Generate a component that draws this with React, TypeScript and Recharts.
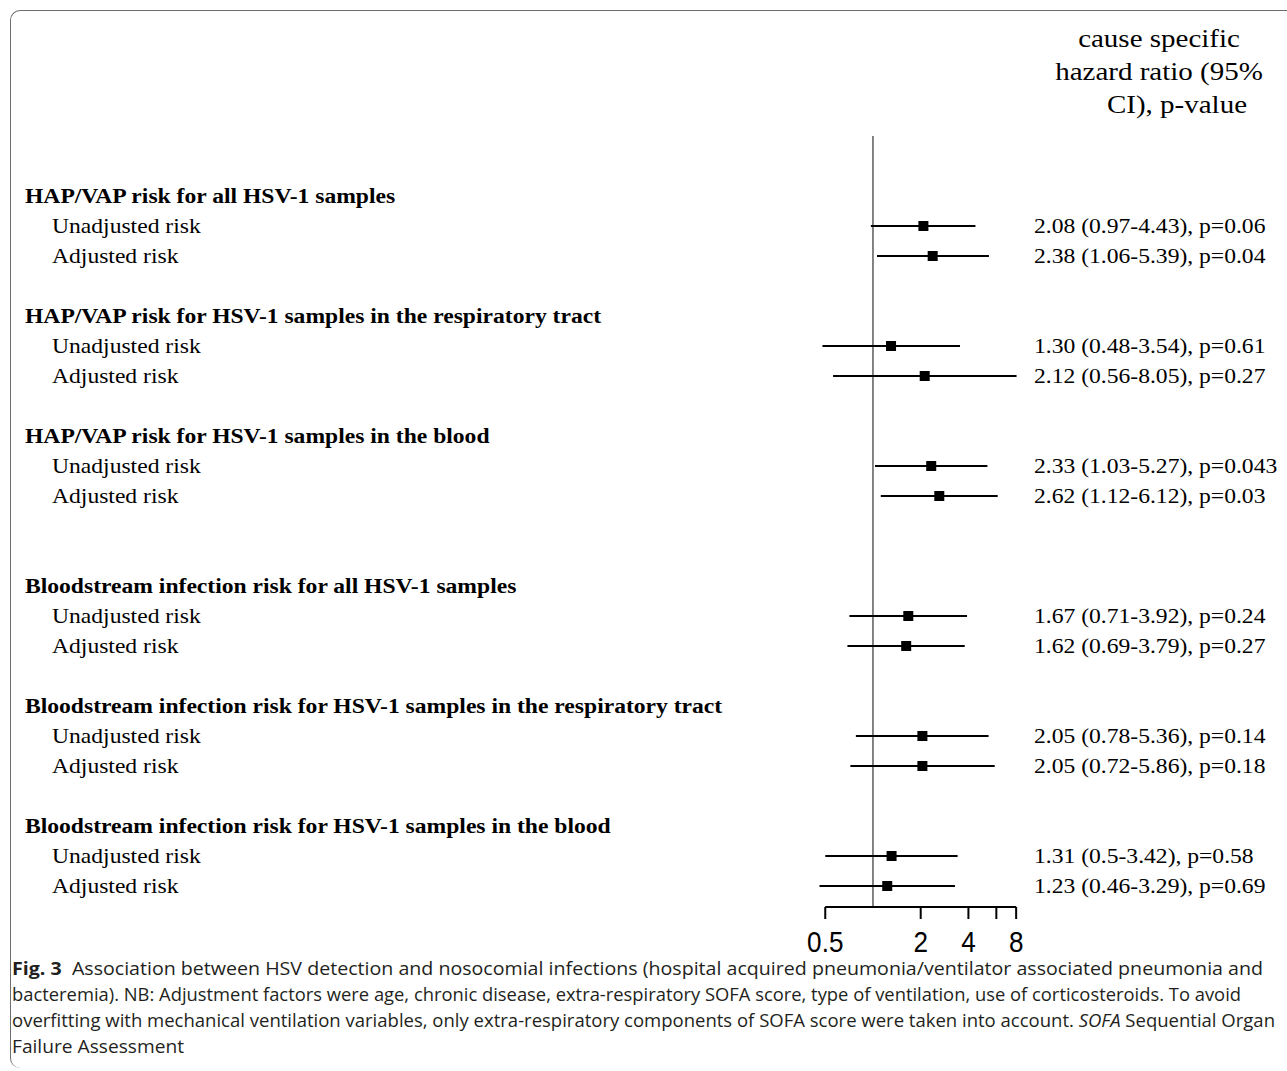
import { ScatterChart, Scatter, XAxis, YAxis, ErrorBar, ReferenceLine } from "recharts";

const SERIF = '"Liberation Serif", "Times New Roman", serif';

// group headings and the row (from the top) each one sits on
const groupTitles = [
  "HAP/VAP risk for all HSV-1 samples",
  "HAP/VAP risk for HSV-1 samples in the respiratory tract",
  "HAP/VAP risk for HSV-1 samples in the blood",
  "Bloodstream infection risk for all HSV-1 samples",
  "Bloodstream infection risk for HSV-1 samples in the respiratory tract",
  "Bloodstream infection risk for HSV-1 samples in the blood",
];
const groupRows = [2, 6, 10, 15, 19, 23];
const subLabels = ["Unadjusted risk", "Adjusted risk"];

const hazardRatios = [2.08, 2.38, 1.3, 2.12, 2.33, 2.62, 1.67, 1.62, 2.05, 2.05, 1.31, 1.23];
const ciLower = [0.97, 1.06, 0.48, 0.56, 1.03, 1.12, 0.71, 0.69, 0.78, 0.72, 0.5, 0.46];
const ciUpper = [4.43, 5.39, 3.54, 8.05, 5.27, 6.12, 3.92, 3.79, 5.36, 5.86, 3.42, 3.29];
const pValues = ["0.06", "0.04", "0.61", "0.27", "0.043", "0.03", "0.24", "0.27", "0.14", "0.18", "0.58", "0.69"];

const xTicks = [0.5, 2, 4, 6, 8];
const xTickLabels = ["0.5", "2", "4", "", "8"];

const points = hazardRatios.map((hr, i) => ({
  hr,
  row: groupRows[Math.floor(i / 2)] + 1 + (i % 2),
  err: [hr - ciLower[i], ciUpper[i] - hr],
  text: `${hr.toFixed(2)} (${ciLower[i]}-${ciUpper[i]}), p=${pValues[i]}`,
}));

const labelRows: { row: number; label: string; bold: boolean }[] = [];
groupTitles.forEach((t, g) => {
  labelRows.push({ row: groupRows[g], label: t, bold: true });
  subLabels.forEach((s, k) => labelRows.push({ row: groupRows[g] + 1 + k, label: s, bold: false }));
});

// the source figure's text is a little wider than plain Times
const stretch = (x: number, y: number) => `translate(${x},${y}) scale(1.18,1)`;

function LeftTick(props: any) {
  const item = labelRows.find((r) => r.row === props.payload.value);
  if (!item) return null;
  return (
    <text
      transform={stretch(item.bold ? 25 : 52, props.y + 7)}
      fontFamily={SERIF}
      fontSize={20}
      fontWeight={item.bold ? "bold" : "normal"}
      fill="#000"
    >
      {item.label}
    </text>
  );
}

function RightTick(props: any) {
  const item = points.find((p) => p.row === props.payload.value);
  if (!item) return null;
  return (
    <text transform={stretch(1034, props.y + 7)} fontFamily={SERIF} fontSize={20} fill="#000">
      {item.text}
    </text>
  );
}

function BottomTick(props: any) {
  const idx = xTicks.indexOf(props.payload.value);
  return (
    <text
      transform={`translate(${props.x},952) scale(0.87,1)`}
      textAnchor="middle"
      fontFamily='"Liberation Sans", Arial, sans-serif'
      fontSize={30}
      fill="#000"
    >
      {xTickLabels[idx]}
    </text>
  );
}

const Square = (props: any) => (
  <rect x={props.cx - 5} y={props.cy - 5} width={10} height={10} fill="#000" />
);

export default function App() {
  return (
    <div style={{ position: "absolute", left: 0, top: 0, width: 1287, height: 1071, background: "#fff" }}>
      <div
        style={{
          position: "absolute",
          left: 10,
          top: 10,
          right: 0,
          bottom: 3,
          borderTop: "1.5px solid #6e6e6e",
          borderLeft: "1.5px solid #6e6e6e",
          borderTopLeftRadius: 10,
          borderBottomLeftRadius: 10,
        }}
      />
      <svg width={1287} height={130} style={{ position: "absolute", left: 0, top: 0 }}>
        <g fontFamily={SERIF} fontSize={25} fill="#000" textAnchor="middle">
          <text transform="translate(1159,47) scale(1.16,1)">cause specific</text>
          <text transform="translate(1159,80) scale(1.16,1)">hazard ratio (95%</text>
          <text transform="translate(1177,113) scale(1.16,1)">CI), p-value</text>
        </g>
      </svg>
      <div style={{ position: "absolute", left: 0, top: 0 }}>
        <ScatterChart width={1287} height={957} margin={{ top: 136, right: 10, bottom: 0, left: 18 }}>
          <XAxis
            type="number"
            dataKey="hr"
            scale="log"
            domain={[0.45, 8.1]}
            allowDataOverflow
            ticks={xTicks}
            interval={0}
            axisLine={false}
            tickLine={{ stroke: "#000", strokeWidth: 2 }}
            tickSize={12}
            height={50}
            tick={<BottomTick />}
          />
          <YAxis
            yAxisId="left"
            type="number"
            dataKey="row"
            domain={[0, 25.7]}
            allowDataOverflow
            reversed
            width={800}
            ticks={labelRows.map((r) => r.row)}
            interval={0}
            axisLine={false}
            tickLine={false}
            tick={<LeftTick />}
          />
          <YAxis
            yAxisId="right"
            orientation="right"
            type="number"
            dataKey="row"
            domain={[0, 25.7]}
            allowDataOverflow
            reversed
            width={260}
            ticks={points.map((p) => p.row)}
            interval={0}
            axisLine={false}
            tickLine={false}
            tick={<RightTick />}
          />
          <ReferenceLine yAxisId="left" x={1} stroke="#333" strokeWidth={1.2} />
          <ReferenceLine
            yAxisId="left"
            segment={[
              { x: 0.5, y: 25.7 },
              { x: 8, y: 25.7 },
            ]}
            stroke="#000"
            strokeWidth={2}
            ifOverflow="visible"
          />
          <Scatter yAxisId="left" data={points} shape={<Square />} isAnimationActive={false}>
            <ErrorBar dataKey="err" direction="x" width={0} stroke="#000" strokeWidth={2} />
          </Scatter>
        </ScatterChart>
      </div>
      {/* caption: each line fitted to the width it has in the source figure */}
      <svg
        width={1287}
        height={116}
        style={{ position: "absolute", left: 0, top: 955 }}
        fontFamily='"Open Sans", sans-serif'
        fontSize={17.5}
        fill="#231f20"
      >
        <text x={12} y={20} textLength={1251} lengthAdjust="spacingAndGlyphs">
          <tspan fontWeight="bold">Fig. 3</tspan>
          <tspan>{"\u00a0\u00a0Association between HSV detection and nosocomial infections (hospital acquired pneumonia/ventilator associated pneumonia and"}</tspan>
        </text>
        <text x={12} y={46} textLength={1229} lengthAdjust="spacingAndGlyphs">
          bacteremia). NB: Adjustment factors were age, chronic disease, extra-respiratory SOFA score, type of ventilation, use of corticosteroids. To avoid
        </text>
        <text x={12} y={72} textLength={1263} lengthAdjust="spacingAndGlyphs">
          <tspan>{"overfitting with mechanical ventilation variables, only extra-respiratory components of SOFA score were taken into account. "}</tspan>
          <tspan fontStyle="italic">SOFA</tspan>
          <tspan>{" Sequential Organ"}</tspan>
        </text>
        <text x={12} y={98} textLength={172} lengthAdjust="spacingAndGlyphs">
          Failure Assessment
        </text>
      </svg>
    </div>
  );
}
